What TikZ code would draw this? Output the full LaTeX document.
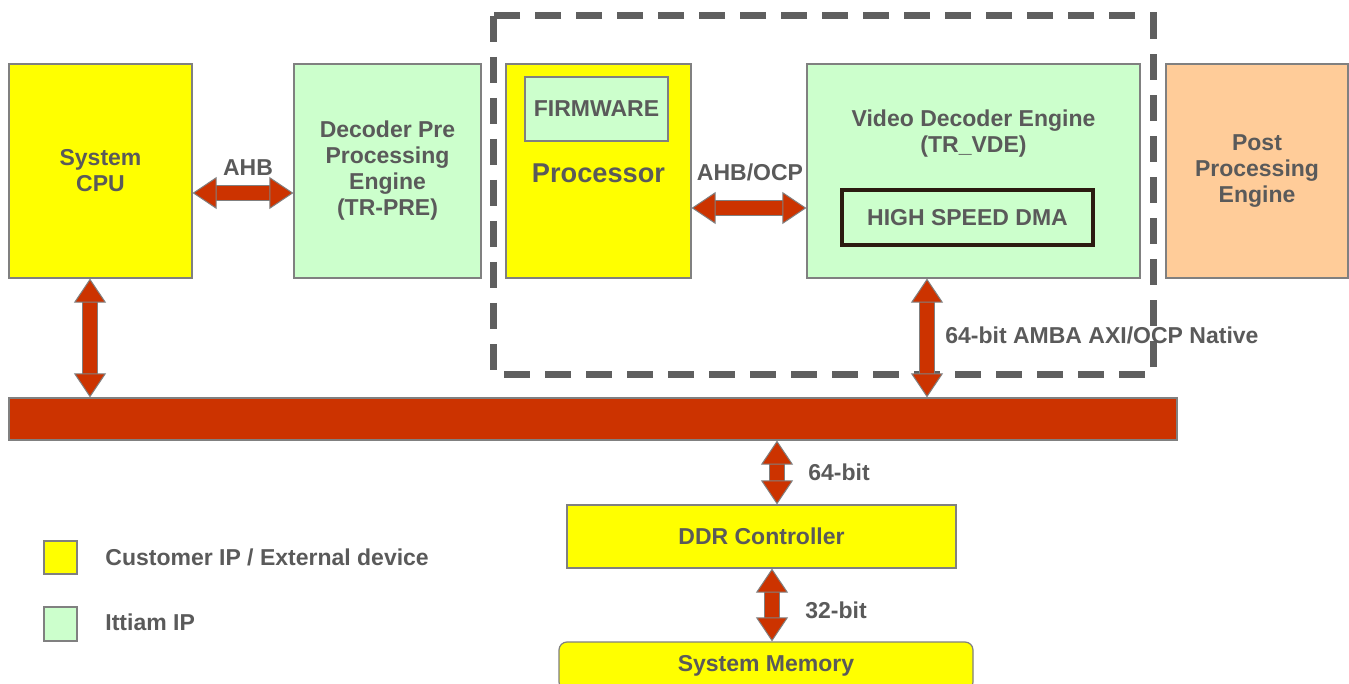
\documentclass[tikz,border=0pt]{standalone}
\usepackage{fontspec}
\setmainfont{Liberation Sans}
\usetikzlibrary{arrows.meta}
\definecolor{custyellow}{HTML}{FFFF00}
\definecolor{ipgreen}{HTML}{CCFFCC}
\definecolor{postpeach}{HTML}{FFCC99}
\definecolor{busred}{HTML}{CC3300}
\definecolor{edgegray}{HTML}{808080}
\definecolor{txtgray}{HTML}{5A5A5A}
\definecolor{dashgray}{HTML}{5F5F5F}
\definecolor{dmaedge}{HTML}{2B1B10}
\begin{document}
\begin{tikzpicture}
  [x=0.5pt,y=-0.5pt,
    txt/.style={text=txtgray,font=\bfseries\fontsize{11.5}{13}\selectfont,align=center,inner sep=0pt},
    box/.style={txt,draw=edgegray,line width=0.6pt},
    cust/.style={box,fill=custyellow},
    ittiam/.style={box,fill=ipgreen},
    group/.style={draw=dashgray,line width=3.5pt,dash pattern=on 13pt off 7.5pt},
    busend/.tip={Triangle[width=16pt,length=12pt,fill=busred,color=edgegray,line width=0.5pt]},
    link/.style={draw=busred,line width=7pt,arrows={busend-busend},
      preaction={draw=edgegray,line width=8pt,arrows=-,shorten <=11pt,shorten >=11pt}},
]
  \useasboundingbox (0,0) rectangle (1349,684);

  \draw[group] (493,16) rectangle (1153,374);

  \node[cust,minimum width=91.5pt,minimum height=107pt] (cpu) at (100.5,171) {System\\CPU};
  \node[ittiam,minimum width=93.5pt,minimum height=107pt] (pre) at (387.5,171) {Decoder Pre\\Processing\\Engine\\(TR-PRE)};
  \node[cust,minimum width=92.5pt,minimum height=107pt] (proc) at (598.5,171) {};
  \node[ittiam,minimum width=71.5pt,minimum height=32pt] (fw) at (596.5,109) {FIRMWARE};
  \node[txt,font=\bfseries\fontsize{13.6}{16}\selectfont] (proclbl) at (598.5,173) {Processor};
  \node[ittiam,minimum width=166.5pt,minimum height=107pt] (vde) at (973.5,171) {};
  \node[txt] (vdelbl) at (973.5,133.5) {Video Decoder Engine\\(TR\_VDE)};
  \node[ittiam,draw=dmaedge,line width=2pt,minimum width=125.5pt,minimum height=27.5pt] (dma) at (967.5,217.5) {HIGH SPEED DMA};
  \node[box,fill=postpeach,minimum width=91pt,minimum height=107pt] (post) at (1257,171) {Post\\Processing\\Engine};

  \node[box,fill=busred,minimum width=584pt,minimum height=21pt] (bus) at (593,419) {};
  \node[cust,minimum width=194.5pt,minimum height=31.5pt] (ddr) at (761.5,536.5) {DDR Controller};
  \node[cust,rounded corners=4pt,minimum width=207pt,minimum height=24pt] (mem) at (766,666) {System Memory};

  \node[cust,minimum width=16.5pt,minimum height=16.5pt] (keycust) at (60.5,557.5) {};
  \node[ittiam,minimum width=16.5pt,minimum height=17pt] (keyip) at (60.5,624) {};
  \node[txt,anchor=west] (keycusttxt) at (105,557) {Customer IP / External device};
  \node[txt,anchor=west] (keyiptxt) at (105,622) {Ittiam IP};

  \coordinate (cpudown) at ([xshift=-5.25pt]cpu.south);
  \coordinate (vdedown) at ([xshift=-23.25pt]vde.south);
  \coordinate (ddrup) at ([xshift=7.75pt]ddr.north);
  \coordinate (memup) at ([xshift=5.25pt]ddr.south);

  \draw[link] ([yshift=-11pt]cpu.east) -- ([yshift=-11pt]pre.west);
  \draw[link] ([yshift=-18.5pt]proc.east) -- ([yshift=-18.5pt]vde.west);
  \draw[link] (cpudown) -- (cpudown |- bus.north);
  \draw[link] (vdedown) -- (vdedown |- bus.north);
  \draw[link] (ddrup |- bus.south) -- (ddrup);
  \draw[link] (memup) -- (memup |- mem.north);

  \node[txt] (ahb) at (248,168) {AHB};
  \node[txt] (ahbocp) at (750,172) {AHB/OCP};
  \node[txt,anchor=west] (axi) at (945,335) {64-bit AMBA AXI/OCP Native};
  \node[txt,anchor=west] (bit64) at (808,472) {64-bit};
  \node[txt,anchor=west] (bit32) at (805,610) {32-bit};

\end{tikzpicture}
\end{document}
